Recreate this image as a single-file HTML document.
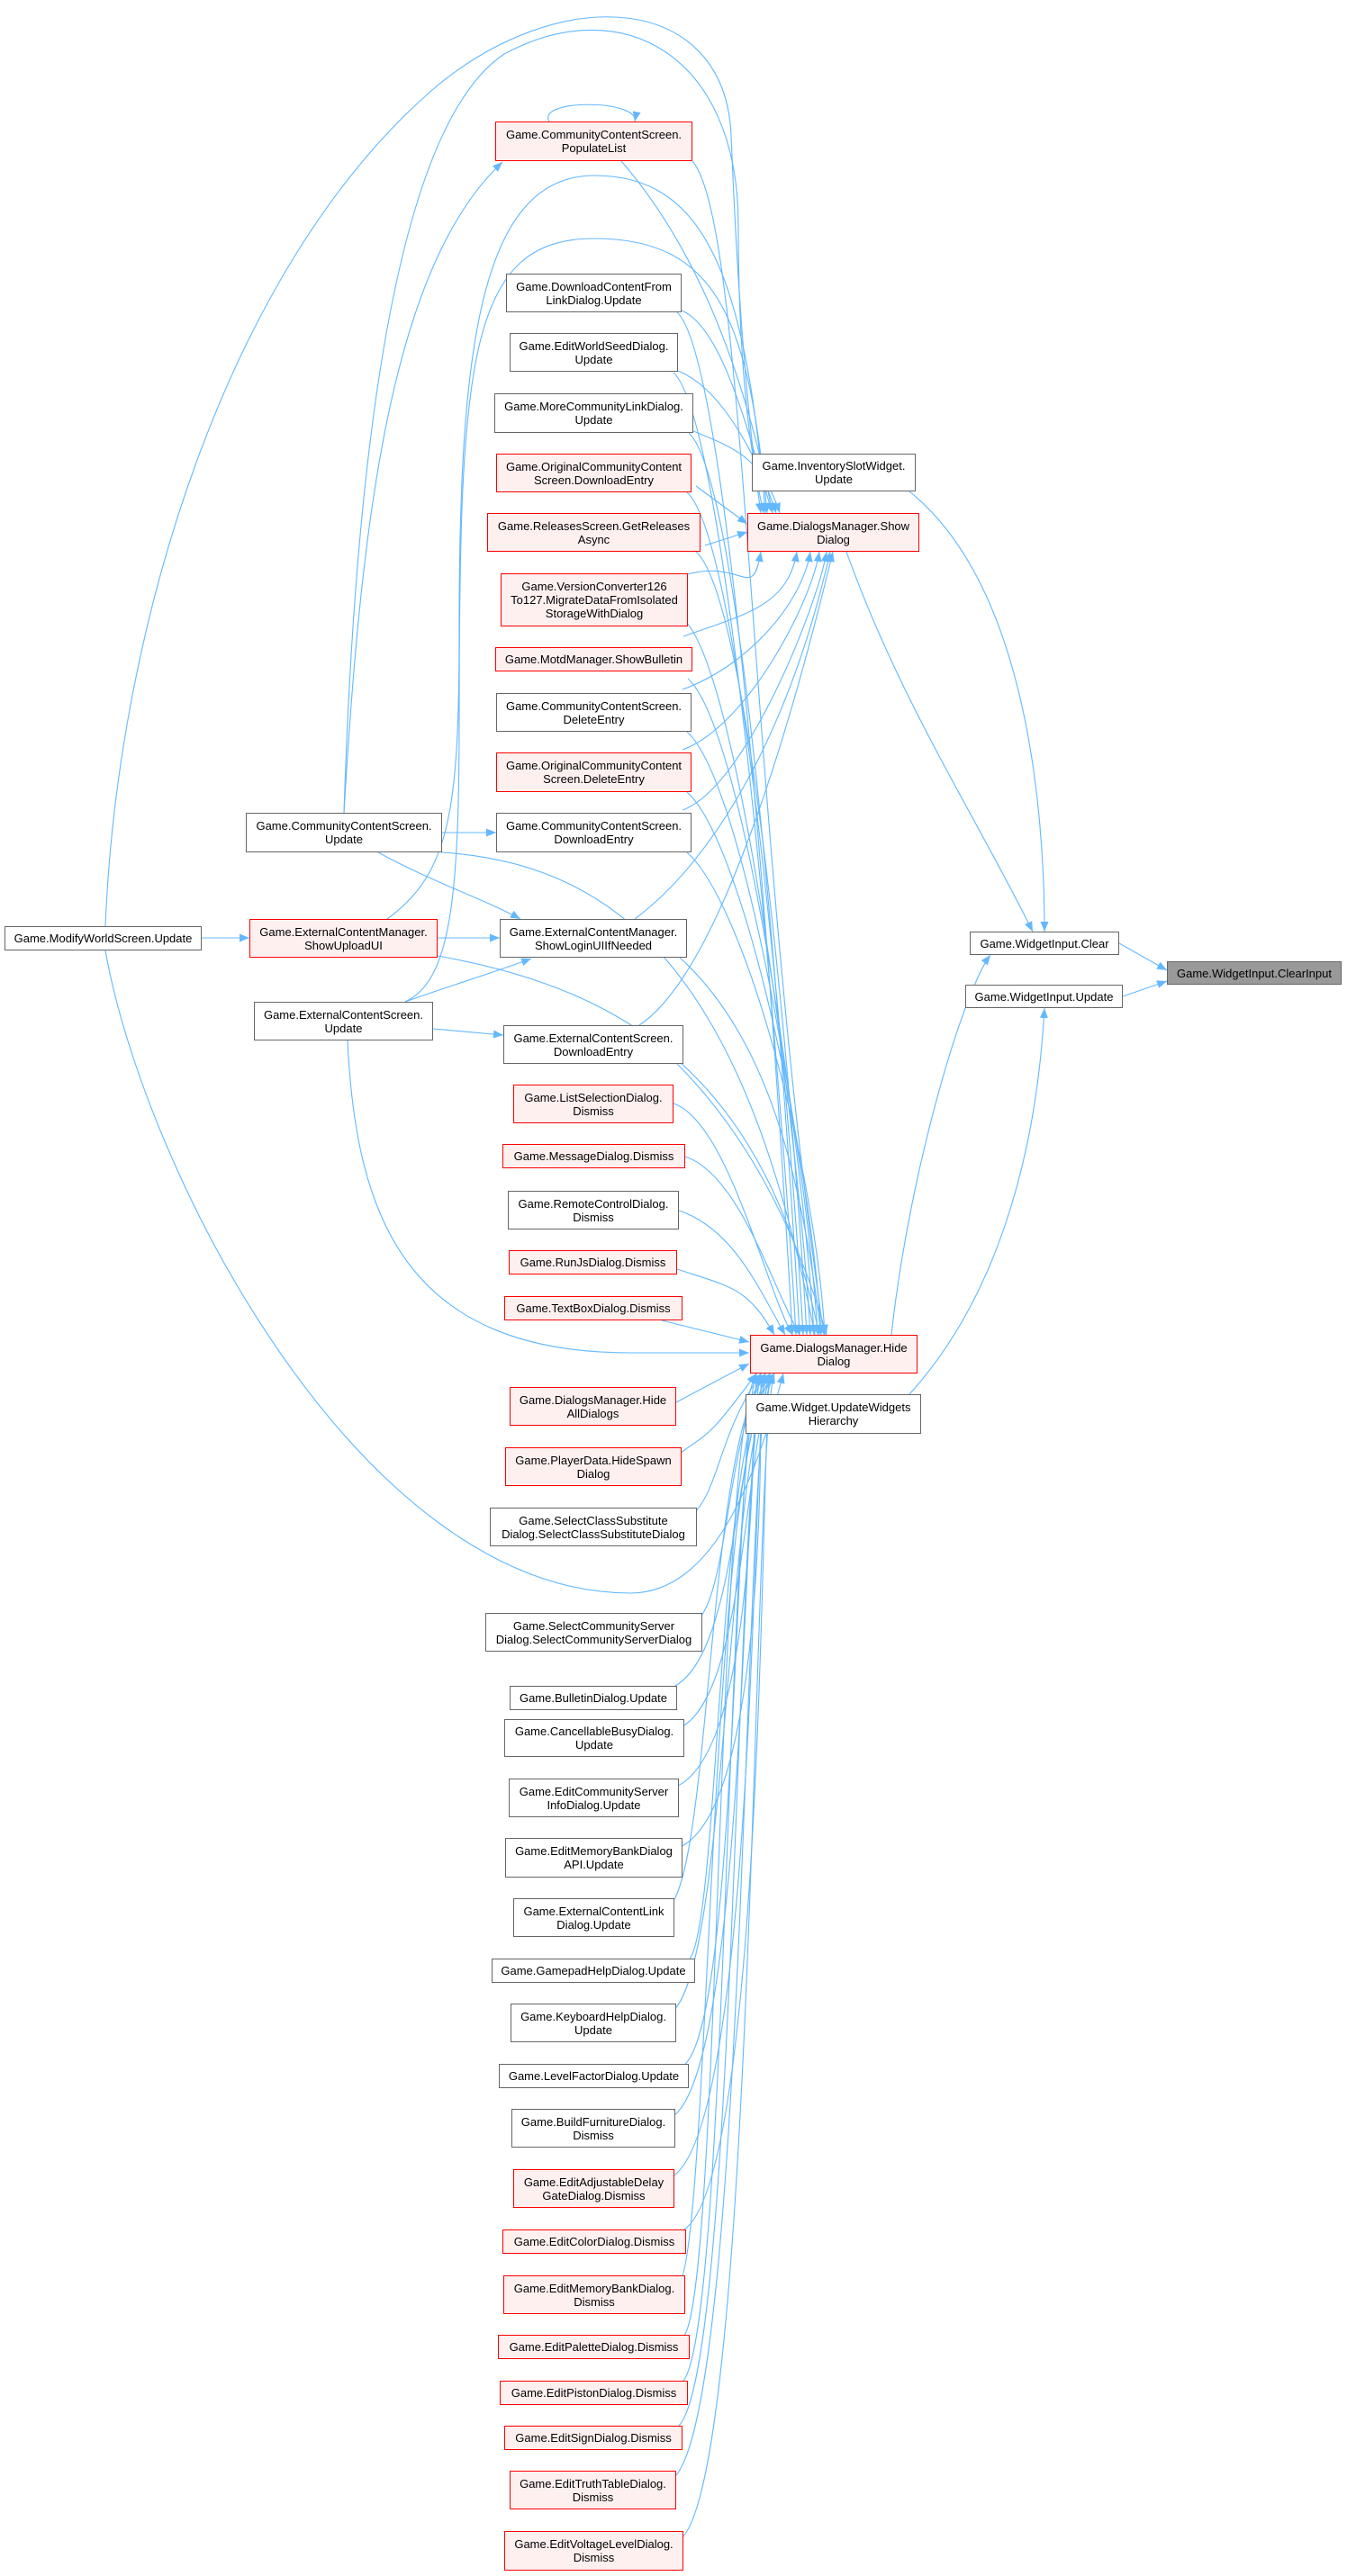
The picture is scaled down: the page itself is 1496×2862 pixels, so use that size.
<!DOCTYPE html>
<html><head><meta charset="utf-8">
<style>
html,body{margin:0;padding:0;background:#fff;}
body{width:1496px;height:2862px;position:relative;overflow:hidden;font-family:"Liberation Sans",Arial,sans-serif;}
.n{position:absolute;box-sizing:border-box;border:1px solid #666;background:#fff;font-size:13px;line-height:15px;color:#000;text-align:center;display:flex;align-items:center;justify-content:center;white-space:nowrap;}
.r{border-color:#f00;background:#fff0f0;}
.g{background:#999;border-color:#666;}
svg{position:absolute;left:0;top:0;}
</style></head><body>
<svg id="sv" width="1496" height="2862" viewBox="0 0 1496 2862">
<defs><marker id="a" markerUnits="userSpaceOnUse" markerWidth="12" markerHeight="10" refX="11" refY="4.5" orient="auto"><path d="M0,0 L11,4.5 L0,9 z" fill="#63b8ff"/></marker></defs>
<g id="eg" fill="none" stroke="#63b8ff" stroke-width="1.1"></g>
</svg>

<div class="n r" style="left:550px;top:135px;width:219px;height:44px">Game.CommunityContentScreen.<br>PopulateList</div>
<div class="n" style="left:562px;top:304px;width:195px;height:43px">Game.DownloadContentFrom<br>LinkDialog.Update</div>
<div class="n" style="left:566px;top:370px;width:187px;height:43px">Game.EditWorldSeedDialog.<br>Update</div>
<div class="n" style="left:549px;top:437px;width:221px;height:44px">Game.MoreCommunityLinkDialog.<br>Update</div>
<div class="n r" style="left:551px;top:504px;width:217px;height:43px">Game.OriginalCommunityContent<br>Screen.DownloadEntry</div>
<div class="n r" style="left:541px;top:570px;width:237px;height:43px">Game.ReleasesScreen.GetReleases<br>Async</div>
<div class="n r" style="left:556px;top:637px;width:208px;height:59px">Game.VersionConverter126<br>To127.MigrateDataFromIsolated<br>StorageWithDialog</div>
<div class="n r" style="left:550px;top:719px;width:219px;height:27px">Game.MotdManager.ShowBulletin</div>
<div class="n" style="left:551px;top:770px;width:217px;height:43px">Game.CommunityContentScreen.<br>DeleteEntry</div>
<div class="n r" style="left:551px;top:836px;width:217px;height:44px">Game.OriginalCommunityContent<br>Screen.DeleteEntry</div>
<div class="n" style="left:551px;top:903px;width:217px;height:44px">Game.CommunityContentScreen.<br>DownloadEntry</div>
<div class="n" style="left:273px;top:903px;width:218px;height:44px">Game.CommunityContentScreen.<br>Update</div>
<div class="n" style="left:555px;top:1021px;width:208px;height:43px">Game.ExternalContentManager.<br>ShowLoginUIIfNeeded</div>
<div class="n r" style="left:277px;top:1021px;width:209px;height:43px">Game.ExternalContentManager.<br>ShowUploadUI</div>
<div class="n" style="left:5px;top:1029px;width:219px;height:27px">Game.ModifyWorldScreen.Update</div>
<div class="n" style="left:282px;top:1113px;width:199px;height:43px">Game.ExternalContentScreen.<br>Update</div>
<div class="n" style="left:559px;top:1139px;width:200px;height:43px">Game.ExternalContentScreen.<br>DownloadEntry</div>
<div class="n" style="left:835px;top:504px;width:182px;height:42px">Game.InventorySlotWidget.<br>Update</div>
<div class="n r" style="left:830px;top:570px;width:191px;height:43px">Game.DialogsManager.Show<br>Dialog</div>
<div class="n" style="left:1077px;top:1035px;width:166px;height:26px">Game.WidgetInput.Clear</div>
<div class="n g" style="left:1296px;top:1068px;width:194px;height:26px">Game.WidgetInput.ClearInput</div>
<div class="n" style="left:1072px;top:1094px;width:175px;height:26px">Game.WidgetInput.Update</div>

<div class="n r" style="left:570px;top:1205px;width:178px;height:43px">Game.ListSelectionDialog.<br>Dismiss</div>
<div class="n r" style="left:558px;top:1271px;width:203px;height:27px">Game.MessageDialog.Dismiss</div>
<div class="n" style="left:564px;top:1323px;width:190px;height:43px">Game.RemoteControlDialog.<br>Dismiss</div>
<div class="n r" style="left:565px;top:1389px;width:187px;height:27px">Game.RunJsDialog.Dismiss</div>
<div class="n r" style="left:560px;top:1440px;width:198px;height:27px">Game.TextBoxDialog.Dismiss</div>
<div class="n r" style="left:833px;top:1483px;width:186px;height:43px">Game.DialogsManager.Hide<br>Dialog</div>
<div class="n r" style="left:566px;top:1541px;width:185px;height:43px">Game.DialogsManager.Hide<br>AllDialogs</div>
<div class="n r" style="left:561px;top:1608px;width:196px;height:43px">Game.PlayerData.HideSpawn<br>Dialog</div>
<div class="n" style="left:544px;top:1675px;width:230px;height:43px">Game.SelectClassSubstitute<br>Dialog.SelectClassSubstituteDialog</div>
<div class="n" style="left:539px;top:1792px;width:241px;height:43px">Game.SelectCommunityServer<br>Dialog.SelectCommunityServerDialog</div>
<div class="n" style="left:566px;top:1873px;width:186px;height:27px">Game.BulletinDialog.Update</div>
<div class="n" style="left:560px;top:1910px;width:200px;height:42px">Game.CancellableBusyDialog.<br>Update</div>
<div class="n" style="left:565px;top:1976px;width:189px;height:43px">Game.EditCommunityServer<br>InfoDialog.Update</div>
<div class="n" style="left:561px;top:2042px;width:197px;height:44px">Game.EditMemoryBankDialog<br>API.Update</div>
<div class="n" style="left:570px;top:2109px;width:179px;height:43px">Game.ExternalContentLink<br>Dialog.Update</div>
<div class="n" style="left:546px;top:2176px;width:226px;height:27px">Game.GamepadHelpDialog.Update</div>
<div class="n" style="left:567px;top:2226px;width:184px;height:43px">Game.KeyboardHelpDialog.<br>Update</div>
<div class="n" style="left:554px;top:2293px;width:211px;height:27px">Game.LevelFactorDialog.Update</div>
<div class="n" style="left:568px;top:2343px;width:182px;height:43px">Game.BuildFurnitureDialog.<br>Dismiss</div>
<div class="n r" style="left:570px;top:2410px;width:179px;height:43px">Game.EditAdjustableDelay<br>GateDialog.Dismiss</div>
<div class="n r" style="left:558px;top:2477px;width:204px;height:27px">Game.EditColorDialog.Dismiss</div>
<div class="n r" style="left:559px;top:2528px;width:202px;height:43px">Game.EditMemoryBankDialog.<br>Dismiss</div>
<div class="n r" style="left:553px;top:2594px;width:213px;height:27px">Game.EditPaletteDialog.Dismiss</div>
<div class="n r" style="left:555px;top:2645px;width:209px;height:27px">Game.EditPistonDialog.Dismiss</div>
<div class="n r" style="left:560px;top:2695px;width:198px;height:27px">Game.EditSignDialog.Dismiss</div>
<div class="n r" style="left:566px;top:2745px;width:185px;height:43px">Game.EditTruthTableDialog.<br>Dismiss</div>
<div class="n r" style="left:560px;top:2812px;width:199px;height:44px">Game.EditVoltageLevelDialog.<br>Dismiss</div>
<div class="n" style="left:828px;top:1549px;width:195px;height:44px">Game.Widget.UpdateWidgets<br>Hierarchy</div>

<script>
var P=[];
function e(d){P.push(d);}
// fixed edges
e("M117,1029 C130,700 250,300 480,100 C620,-20 805,-10 812,150 C818,300 828,450 845,570");
e("M117,1056 C160,1300 400,1770 700,1770 C800,1770 845,1620 870,1526");
e("M224,1042 L277,1042");
e("M382,903 C395,500 440,140 560,60 C690,-10 820,60 820,250 C820,400 832,500 848,570");
e("M382,903 C400,600 430,300 558,180");
e("M420,947 C480,980 540,1000 578,1021");
e("M491,925 L551,925");
e("M490,947 C700,960 830,1100 905,1483");
e("M430,1021 C500,970 510,900 510,700 C510,400 530,195 660,195 C780,195 828,300 850,570");
e("M486,1042 L555,1042");
e("M486,1062 C700,1100 850,1200 910,1483");
e("M450,1113 C500,1090 510,1000 510,800 C510,400 520,265 660,265 C800,265 832,360 852,570");
e("M450,1113 C500,1095 550,1080 590,1065");
e("M481,1143 L559,1150");
e("M386,1156 C395,1350 450,1503 700,1503 L832,1503");
e("M610,135 C595,110 710,110 705,135");
e("M690,179 C760,260 820,380 858,570");
e("M769,179 C830,250 830,900 915,1483");
e("M705,1021 C800,950 880,800 922,613");
e("M755,1064 C850,1150 890,1300 912,1483");
e("M710,1139 C800,1080 880,800 925,613");
e("M752,1182 C820,1250 880,1350 918,1483");
e("M1010,546 C1140,650 1160,900 1160,1035");
e("M940,613 C1000,780 1080,900 1147,1035");
e("M990,1483 C1010,1300 1070,1100 1100,1061");
e("M1010,1549 C1100,1450 1150,1300 1160,1120");
e("M1243,1048 L1296,1078");
e("M1247,1107 L1296,1090");
// upper nodes -> ShowDialog & HideDialog
var U=[[757,325],[753,392],[770,459],[768,525],[778,591],[764,666],[769,732],[768,791],[768,858],[768,925]];
var sdEnd=[[858,570],[862,570],[866,570],[830,582],[830,591],[845,613],[885,613],[900,613],[910,613],[918,613]];
for(var i=0;i<U.length;i++){
 var s=U[i],t=sdEnd[i];
 if(i<3) e("M"+s[0]+","+(s[1]+20)+" C"+(s[0]+50)+","+(s[1]+40)+" "+(t[0]-20)+","+(t[1]-60)+" "+t[0]+","+t[1]);
 else if(i<5) e("M"+(s[0]+5)+","+(s[1]+15)+" L"+t[0]+","+t[1]);
 else e("M"+(s[0]-10)+","+(s[1]-25)+" C"+(s[0]+60)+","+(s[1]-50)+" "+(t[0]-10)+","+(t[1]+60)+" "+t[0]+","+t[1]);
 var hx=880+i*4;
 e("M"+(s[0]-5)+","+(s[1]+22)+" C"+(s[0]+60)+","+(s[1]+80)+" "+(hx-10)+","+(1300)+" "+hx+",1483");
}
// lower-left upper group to HD
var L=[[748,1226,880],[761,1285,888],[754,1345,872],[752,1410,860]];
for(var j=0;j<L.length;j++){var s=L[j];e("M"+s[0]+","+s[1]+" C"+(s[0]+60)+","+(s[1]+20)+" "+(s[2]-30)+","+1430+" "+s[2]+",1483");}
e("M735,1467 L832,1491");
e("M751,1558 L832,1515");
// below nodes
var B=[[757,1629],[774,1696],[780,1813],[752,1886],[760,1931],[754,1997],[758,2064],[749,2130],[772,2189],[751,2247],[765,2306],[750,2364],[749,2431],[762,2490],[761,2549],[766,2607],[764,2658],[758,2708],[751,2766],[759,2834]];
for(var k=0;k<B.length;k++){var s=B[k];var ex=840+(k%5)*5, ey=1526;
 var cx=790+ (k%7)*10;
 e("M"+(s[0]-8)+","+(s[1]-10)+" C"+(cx)+","+(s[1]-40)+" "+(cx-5)+","+(1600)+" "+ex+","+ey);}
var g=document.getElementById('eg');var h='';
for(var m=0;m<P.length;m++)h+='<path d="'+P[m]+'" marker-end="url(#a)"/>';
g.innerHTML=h;
</script>
</body></html>
